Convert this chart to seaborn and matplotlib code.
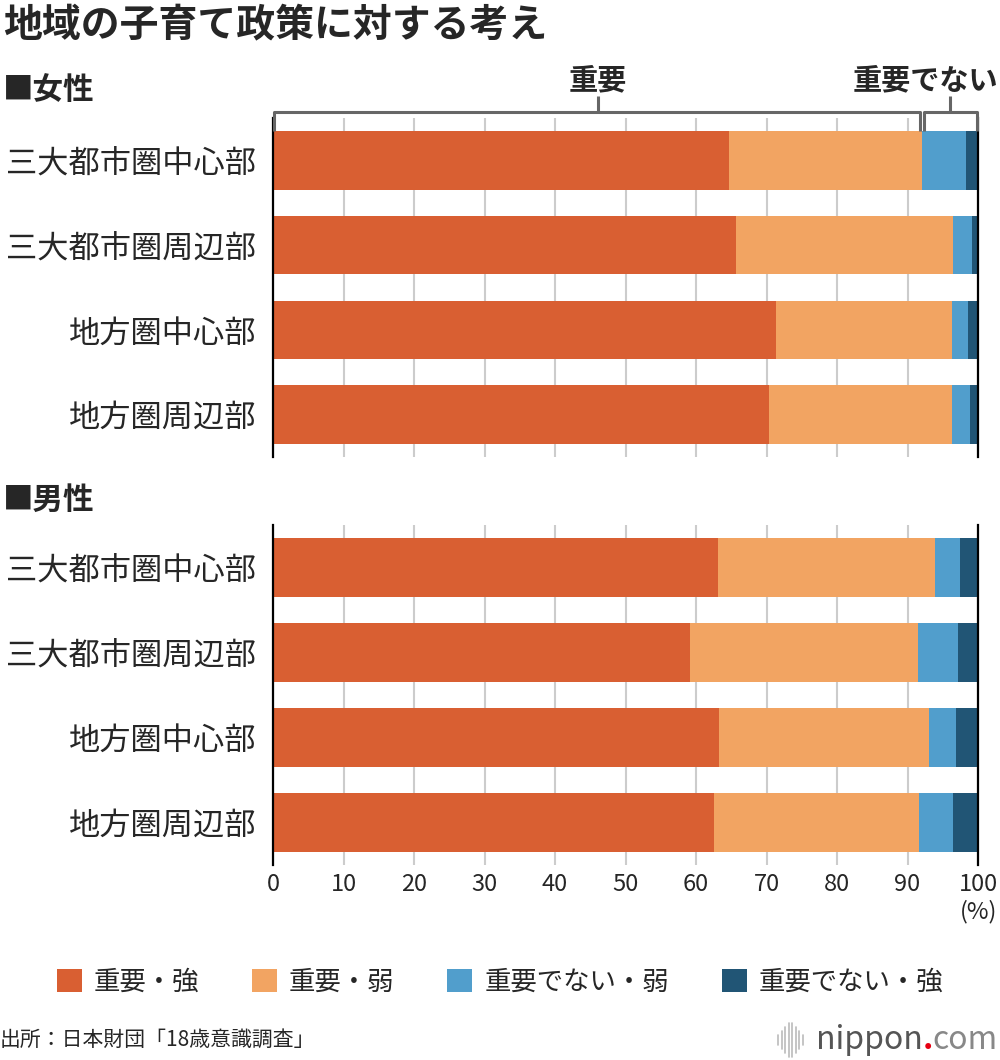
import numpy as np
import pandas as pd
import matplotlib.pyplot as plt
import seaborn as sns
from matplotlib.patches import Patch
from matplotlib.lines import Line2D

sns.set_style("white")
plt.rcParams['font.family'] = ['Noto Sans CJK JP', 'DejaVu Sans']

# data (percent)
regions = ['三大都市圏中心部', '三大都市圏周辺部', '地方圏中心部', '地方圏周辺部']
series = ['重要・強', '重要・弱', '重要でない・弱', '重要でない・強']
colors = ['#D95F32', '#F2A462', '#519ECC', '#215575']

women_strong = [64.7, 65.7, 71.4, 70.4]
women_weak = [27.4, 30.8, 24.9, 25.9]
women_not_weak = [6.2, 2.7, 2.3, 2.6]
women_not_strong = [1.7, 0.8, 1.4, 1.1]

men_strong = [63.1, 59.1, 63.3, 62.6]
men_weak = [30.8, 32.4, 29.7, 29.0]
men_not_weak = [3.6, 5.7, 3.9, 4.9]
men_not_strong = [2.5, 2.8, 3.1, 3.5]

xticks = list(range(0, 101, 10))

fig = plt.figure(figsize=(10, 10.6), dpi=100)
ax_w = fig.add_axes([0.273, 1 - 457 / 1060, 0.705, 339 / 1060])
ax_m = fig.add_axes([0.273, 1 - 865 / 1060, 0.705, 340 / 1060])


def stacked(ax, parts):
    df = pd.DataFrame(dict(zip(series, parts)), index=regions)
    cum = df.cumsum(axis=1)
    # draw the longest cumulative bar first, shorter ones on top
    for k in reversed(range(len(series))):
        sns.barplot(x=cum[series[k]].values, y=regions, color=colors[k],
                    orient='h', width=0.69, saturation=1, linewidth=0, ax=ax)
    ax.set_xlim(0, 100)
    ax.set_ylim(3.5, -0.5)
    ax.set_xticks(xticks)
    ax.grid(axis='x', color='#cccccc', lw=1.5)
    ax.grid(axis='y', visible=False)
    ax.set_axisbelow(True)
    for s in ['top', 'bottom']:
        ax.spines[s].set_visible(False)
    for s in ['left', 'right']:
        ax.spines[s].set_color('black')
        ax.spines[s].set_linewidth(1.6)
        ax.spines[s].set_zorder(5)
    ax.set_xlabel('')
    ax.set_ylabel('')
    ax.tick_params(axis='y', length=0, pad=12, labelsize=22.5)
    ax.tick_params(axis='x', length=0, pad=6, labelsize=17)


stacked(ax_w, [women_strong, women_weak, women_not_weak, women_not_strong])
stacked(ax_m, [men_strong, men_weak, men_not_weak, men_not_strong])
ax_w.set_xticklabels([])

# bracket above the first bar
split = women_strong[0] + women_weak[0]
tr = ax_w.get_xaxis_transform()
yb, ye, ys = 1.0177, 0.9617, 1.065
bc = '#666666'
kw = dict(color=bc, lw=2.2, transform=tr, clip_on=False, zorder=6,
          solid_capstyle='butt')
ax_w.plot([0.15, 0.15, split - 0.3, split - 0.3], [ye, yb, yb, ye], **kw)
ax_w.plot([split + 0.3, split + 0.3, 99.8, 99.8], [ye, yb, yb, ye], **kw)
ax_w.plot([split / 2, split / 2], [yb, ys], **kw)
ax_w.plot([(split + 100) / 2, (split + 100) / 2], [yb, ys], **kw)
ax_w.text(split / 2, 1.112, '重要', transform=tr, ha='center', va='center',
          fontsize=21, fontweight='bold')
fig.text(0.998, 1 - 80 / 1060, '重要でない', ha='right', va='center',
         fontsize=21, fontweight='bold')

# titles
fig.text(0.003, 1 - 25 / 1060, '地域の子育て政策に対する考え', ha='left', va='center',
         fontsize=28, fontweight='bold')
fig.text(0.003, 1 - 90 / 1060, '■女性', ha='left', va='center', fontsize=22,
         fontweight='bold')
fig.text(0.003, 1 - 500 / 1060, '■男性', ha='left', va='center', fontsize=22,
         fontweight='bold')
fig.text(0.997, 1 - 912 / 1060, '(%)', ha='right', va='center', fontsize=17)

# legend
handles = [Patch(facecolor=c, edgecolor='none', label=s) for c, s in zip(colors, series)]
fig.legend(handles=handles, loc='center', bbox_to_anchor=(0.5, 1 - 982 / 1060),
           ncol=4, frameon=False, fontsize=19, handlelength=0.95,
           handleheight=0.95, handletextpad=0.45, columnspacing=2.0)

# footer
fig.text(0.0, 1 - 1040 / 1060, '出所：日本財団「18歳意識調査」', ha='left', va='center',
         fontsize=15)
t_com = fig.text(0.998, 1 - 1040 / 1060, 'com', ha='right', va='center',
                 fontsize=23, color='#888888')
t_dot = ax_m.annotate('.', xy=(0, 0), xycoords=t_com, ha='right', va='bottom',
                      fontsize=23, color='#e60012', fontweight='bold',
                      annotation_clip=False)
ax_m.annotate('nippon', xy=(0, 0), xycoords=t_dot, ha='right', va='bottom',
              fontsize=23, color='#555555', annotation_clip=False)
for i, h in enumerate([5, 9, 13, 17, 17, 13, 9, 5]):
    x = (778 + i * 3.5) / 1000
    fig.add_artist(Line2D([x, x], [1 - (1040 + h) / 1060, 1 - (1040 - h) / 1060],
                          color='#bbbbbb', lw=1.2))

fig.savefig('out.png', dpi=100)
